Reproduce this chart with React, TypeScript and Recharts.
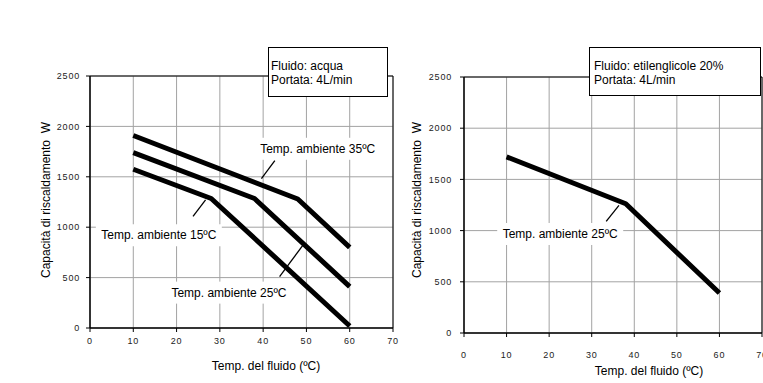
import React from 'react';
import {
  LineChart,
  Line,
  XAxis,
  YAxis,
  CartesianGrid,
  ReferenceArea,
  ReferenceLine,
  ReferenceDot,
} from 'recharts';

// ---- data ----
const xTicks = [0, 10, 20, 30, 40, 50, 60, 70];
const yTicks = [0, 500, 1000, 1500, 2000, 2500];

// Fluido: acqua
const water35 = [
  { x: 10, y: 1910 },
  { x: 48, y: 1280 },
  { x: 60, y: 800 },
];
const water25 = [
  { x: 10, y: 1740 },
  { x: 38, y: 1285 },
  { x: 60, y: 410 },
];
const water15 = [
  { x: 10, y: 1575 },
  { x: 28, y: 1285 },
  { x: 60, y: 20 },
];
// Fluido: etilenglicole 20%
const glycol25 = [
  { x: 10, y: 1720 },
  { x: 38, y: 1262 },
  { x: 60, y: 390 },
];

const leftNotes = [
  { text: 'Temp. ambiente 35ºC', x: 52.6, y: 1778, from: { x: 39.6, y: 1482 }, to: { x: 42.7, y: 1660 } },
  { text: 'Temp. ambiente 15ºC', x: 15.9, y: 920, from: { x: 23.8, y: 1108 }, to: { x: 26.7, y: 1272 } },
  { text: 'Temp. ambiente 25ºC', x: 32.1, y: 351, from: { x: 43.8, y: 509 }, to: { x: 49.2, y: 822 } },
];
const rightNotes = [
  { text: 'Temp. ambiente 25ºC', x: 22.6, y: 967, from: { x: 33.4, y: 1090 }, to: { x: 36.4, y: 1246 } },
];

const FONT = '"Liberation Sans", Arial, Helvetica, sans-serif';
const GRID = '#a3a3a3';

const noteShape = (text: string) => (p: any) => {
  const cx = p.cx;
  const cy = p.cy;
  const w = 126;
  return (
    <g>
      <rect x={cx - w / 2} y={cy - 11} width={w} height={22} fill="#fff" />
      <text
        x={cx}
        y={cy}
        textAnchor="middle"
        dominantBaseline="central"
        fontSize={12}
        fontFamily={FONT}
        fill="#000"
      >
        {text}
      </text>
    </g>
  );
};

const tickStyle = { fontSize: 9, fill: '#222', fontFamily: FONT, letterSpacing: 0.8 };

function Panel(props: {
  series: { x: number; y: number }[][];
  notes: typeof leftNotes;
  width: number;
  margin: { top: number; right: number; bottom: number; left: number };
  yAxisWidth: number;
  xTickMargin: number;
  yTickMargin: number;
}) {
  const { series, notes, width, margin, yAxisWidth, xTickMargin, yTickMargin } = props;
  return (
    <LineChart width={width} height={383} margin={margin}>
      <CartesianGrid stroke={GRID} strokeWidth={1} horizontalValues={yTicks} verticalValues={xTicks} />
      <XAxis
        type="number"
        dataKey="x"
        domain={[0, 70]}
        ticks={xTicks}
        interval={0}
        height={30}
        stroke="#000"
        tickLine={{ stroke: '#000' }}
        tickSize={4}
        tickMargin={xTickMargin}
        tick={tickStyle}
        allowDataOverflow
      />
      <YAxis
        type="number"
        domain={[0, 2500]}
        ticks={yTicks}
        interval={0}
        width={yAxisWidth}
        stroke="#000"
        tickLine={{ stroke: '#000' }}
        tickSize={4}
        tickMargin={yTickMargin}
        tick={tickStyle}
        allowDataOverflow
      />
      <ReferenceArea x1={0} x2={70} y1={0} y2={2500} fill="none" stroke="#000" strokeWidth={1} ifOverflow="visible" />
      {notes.map((n, i) => (
        <ReferenceDot key={'d' + i} x={n.x} y={n.y} r={1} fill="none" stroke="none" shape={noteShape(n.text)} ifOverflow="visible" />
      ))}
      {notes.map((n, i) => (
        <ReferenceLine key={'l' + i} segment={[n.from, n.to]} stroke="#000" strokeWidth={1.3} ifOverflow="visible" />
      ))}
      {series.map((s, i) => (
        <Line
          key={'s' + i}
          data={s}
          dataKey="y"
          type="linear"
          stroke="#000"
          strokeWidth={5}
          strokeLinejoin="round"
          dot={false}
          activeDot={false}
          isAnimationActive={false}
        />
      ))}
    </LineChart>
  );
}

const boxStyle: React.CSSProperties = {
  position: 'absolute',
  boxSizing: 'border-box',
  border: '1px solid #000',
  background: '#fff',
  fontFamily: FONT,
  fontSize: 12,
  lineHeight: '13.5px',
  color: '#000',
  paddingTop: 12,
  paddingLeft: 2,
  whiteSpace: 'nowrap',
};

const titleStyle: React.CSSProperties = {
  position: 'absolute',
  fontFamily: FONT,
  fontSize: 12,
  color: '#000',
  whiteSpace: 'pre',
  lineHeight: '14px',
};

export default function App() {
  return (
    <div style={{ position: 'absolute', left: 0, top: 0, width: 763, height: 383, background: '#fff', overflow: 'hidden' }}>
      <div style={{ position: 'absolute', left: 0, top: 0 }}>
        <Panel
          series={[water35, water25, water15]}
          notes={leftNotes}
          width={400}
          margin={{ top: 76, right: 7, bottom: 25, left: 30 }}
          yAxisWidth={60}
          xTickMargin={6}
          yTickMargin={6}
        />
      </div>
      <div style={{ position: 'absolute', left: 400, top: 0 }}>
        <Panel
          series={[glycol25]}
          notes={rightNotes}
          width={363}
          margin={{ top: 77, right: 1, bottom: 20, left: 24 }}
          yAxisWidth={40}
          xTickMargin={15}
          yTickMargin={8}
        />
      </div>

      <div style={{ ...boxStyle, left: 268, top: 47, width: 120, height: 50 }}>
        <div>Fluido: acqua</div>
        <div>Portata: 4L/min</div>
      </div>
      <div style={{ ...boxStyle, left: 589, top: 47, width: 172, height: 49, paddingLeft: 4 }}>
        <div>Fluido: etilenglicole 20%</div>
        <div>Portata: 4L/min</div>
      </div>

      <div style={{ ...titleStyle, left: 46, top: 200, transform: 'translate(-50%, -50%) rotate(-90deg)' }}>
        {'Capacità di riscaldamento  W'}
      </div>
      <div style={{ ...titleStyle, left: 417, top: 200, transform: 'translate(-50%, -50%) rotate(-90deg)' }}>
        {'Capacità di riscaldamento  W'}
      </div>
      <div style={{ ...titleStyle, left: 266, top: 366, transform: 'translate(-50%, -50%)' }}>
        {'Temp. del fluido (ºC)'}
      </div>
      <div style={{ ...titleStyle, left: 649, top: 371, transform: 'translate(-50%, -50%)' }}>
        {'Temp. del fluido (ºC)'}
      </div>
    </div>
  );
}
